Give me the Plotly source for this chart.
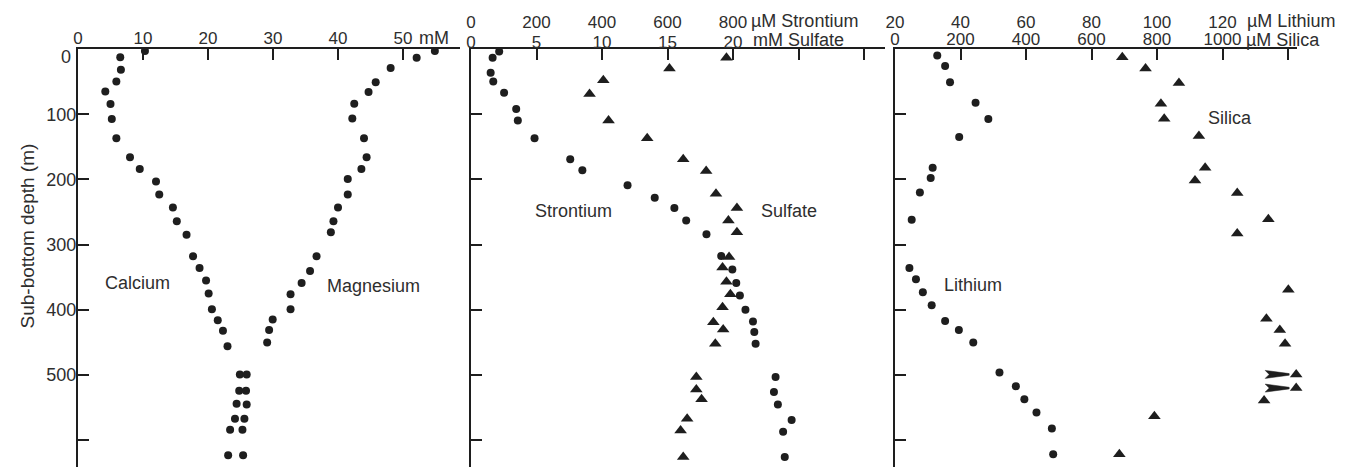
import plotly.graph_objects as go

# ---------------- data ----------------
ca_depth = [3, 12.5, 32, 50, 65, 84.5, 107.5, 137, 166, 184, 203, 223, 243, 264, 285,
            318, 336, 355, 375, 399, 416, 432, 456, 499, 524, 544, 567, 584, 623]
calcium = [10.3, 6.5, 6.6, 5.9, 4.2, 5.0, 5.2, 5.9, 8.0, 9.5, 12.0, 12.5, 14.6, 15.2, 16.7,
           17.7, 18.7, 19.7, 20.1, 20.6, 21.5, 22.3, 23.0, 24.9, 24.8, 24.4, 24.15, 23.4, 23.1]

mg_depth = [3, 13.5, 29, 51, 66, 84, 106.5, 137, 166, 184, 199.5, 223, 243, 264, 281,
            318, 340.5, 359, 376, 399, 415, 431, 450, 499, 524, 545, 567, 584, 623]
magnesium = [54.9, 52.1, 48.1, 45.8, 44.7, 42.5, 42.2, 44.0, 44.4, 43.6, 41.5, 41.5, 40.0, 39.3, 38.9,
             36.7, 35.7, 34.4, 32.7, 32.7, 29.95, 29.4, 29.1, 25.95, 25.85, 25.95, 25.6, 25.3, 25.4]

sr_depth = [4, 13.5, 36.5, 50, 67, 92, 109.5, 137, 169, 186, 209, 228, 244, 263, 284,
            317.5, 338, 359, 378, 400, 418, 434, 452, 503, 526, 545, 569, 587, 625.6]
strontium = [86, 66, 60, 68, 101, 138, 143, 194, 303, 340, 478, 561, 621, 657, 719,
             764, 798, 810, 821, 838, 861, 865, 869, 930, 925, 937, 979, 953, 958]

so4_depth = [13.5, 30, 48, 69, 109.5, 137, 169, 187, 222, 244, 263, 281, 319, 335, 357,
             376, 396, 419, 430, 452, 503, 522, 537, 567, 585, 625.6]
sulfate = [19.5, 15.15, 10.1, 9.05, 10.5, 13.45, 16.2, 17.95, 18.7, 20.3, 19.65, 20.3, 19.7, 19.2, 19.5,
           19.8, 19.2, 18.5, 19.25, 18.65, 17.2, 17.2, 17.6, 16.5, 16.0, 16.2]

li_depth = [10, 26, 51, 82.5, 107.5, 135, 182, 198, 220, 262, 336, 353, 373, 393, 417,
            431, 450, 496, 517, 537, 557.6, 582, 621.5]
lithium = [32.9, 35.3, 36.8, 44.6, 48.5, 39.6, 31.5, 30.9, 27.6, 25.1, 24.4, 26.4, 28.5, 31.2, 35.3,
           39.5, 43.9, 51.9, 56.9, 59.5, 63.2, 67.9, 68.3]

si_depth = [12.5, 30, 52, 84, 107, 133.6, 182, 201.5, 221, 261, 283, 369, 413.5, 431, 452,
            499, 520, 539, 563, 621.5]
silica = [694, 765, 867, 812, 822, 928, 947, 916, 1045, 1140, 1045, 1201, 1134, 1175, 1191,
          1225, 1225, 1127, 792, 685]

# samples flagged with arrows in the silica profile
arrow_depths = [499, 520]
arrow_silica = [1225, 1225]

# tick labels
depth_ticks = [0, 100, 200, 300, 400, 500, 600]
depth_labels = ["", "100", "200", "300", "400", "500", ""]
mm_ticks = [0, 10, 20, 30, 40, 50]
sr_ticks = [0, 200, 400, 600, 800, 1000, 1200]
sr_labels = ["0", "200", "400", "600", "800", "", ""]
so4_ticks = [0, 5, 10, 15, 20]
si_ticks = [0, 200, 400, 600, 800, 1000, 1200]
si_labels = ["0", "200", "400", "600", "800", "1000", ""]
li_ticks = [20, 40, 60, 80, 100, 120]

# ---------------- styling ----------------
OFF = 8                      # page body margin of the browser
REF_W, REF_H = 1357, 467
W, H = REF_W - OFF, REF_H - OFF
TOP = 49                     # top axis position in the reference picture
FONT = "Liberation Sans, Arial, sans-serif"
INK = "#1e1e1e"
TXT = "#2e2e2e"

def px_to_paper_x(px):
    return (px - OFF) / W

def py_to_paper_y(py):
    return (REF_H - py) / (REF_H - TOP)

DEPTH_RANGE = [641, 0]

dot = dict(symbol="circle", size=8, color=INK)
tri = dict(symbol="triangle-up", size=11, color=INK)

fig = go.Figure()
fig.add_trace(go.Scatter(x=calcium, y=ca_depth, mode="markers", marker=dot,
                         xaxis="x", yaxis="y", cliponaxis=False, name="Calcium"))
fig.add_trace(go.Scatter(x=magnesium, y=mg_depth, mode="markers", marker=dot,
                         xaxis="x", yaxis="y", cliponaxis=False, name="Magnesium"))
fig.add_trace(go.Scatter(x=strontium, y=sr_depth, mode="markers", marker=dot,
                         xaxis="x2", yaxis="y2", cliponaxis=False, name="Strontium"))
fig.add_trace(go.Scatter(x=sulfate, y=so4_depth, mode="markers", marker=tri,
                         xaxis="x4", yaxis="y2", cliponaxis=False, name="Sulfate"))
fig.add_trace(go.Scatter(x=silica, y=si_depth, mode="markers", marker=tri,
                         xaxis="x3", yaxis="y3", cliponaxis=False, name="Silica"))
fig.add_trace(go.Scatter(x=lithium, y=li_depth, mode="markers", marker=dot,
                         xaxis="x5", yaxis="y3", cliponaxis=False, name="Lithium"))

tickfont = dict(family=FONT, size=17, color=TXT)
ytickfont = dict(family=FONT, size=18, color=TXT)
base_x = dict(side="top", showgrid=False, zeroline=False, automargin=False,
              fixedrange=True, tickfont=tickfont)
line_x = dict(showline=True, linecolor=INK, linewidth=2, ticks="inside",
              ticklen=11, tickwidth=2, tickcolor=INK)
base_y = dict(range=DEPTH_RANGE, domain=[0, 1], showgrid=False, zeroline=False,
              automargin=False, fixedrange=True, showline=True, linecolor=INK,
              linewidth=2, ticks="inside", ticklen=11, tickwidth=2, tickcolor=INK,
              tickvals=depth_ticks, tickfont=ytickfont)

d1 = [px_to_paper_x(78), px_to_paper_x(460)]
d2 = [px_to_paper_x(471), px_to_paper_x(885)]
d3 = [px_to_paper_x(895), px_to_paper_x(1297)]
r1 = [0, (460 - 78) / 6.5]
r2 = [0, (885 - 471) / 0.3275]
r3 = [0, (1297 - 895) / 0.3275]

fig.update_layout(
    width=W, height=H,
    margin=dict(l=0, r=0, t=TOP - OFF, b=0),
    paper_bgcolor="white", plot_bgcolor="white",
    showlegend=False,
    xaxis=dict(**base_x, **line_x, domain=d1, range=r1, anchor="y",
               tickvals=mm_ticks, ticktext=[str(v) for v in mm_ticks], ticklabelstandoff=-4),
    yaxis=dict(**base_y, anchor="x", ticktext=depth_labels, ticklabelstandoff=-4),
    xaxis2=dict(**base_x, **line_x, domain=d2, range=r2, anchor="y2",
                tickvals=sr_ticks, ticktext=sr_labels, ticklabelstandoff=12),
    xaxis4=dict(**base_x, overlaying="x2", anchor="y2", range=[r2[0] / 40, r2[1] / 40],
                showline=False, ticks="", tickvals=so4_ticks, ticklabelstandoff=-3,
                ticktext=[str(v) for v in so4_ticks]),
    yaxis2=dict(**base_y, anchor="x2", showticklabels=False),
    xaxis3=dict(**base_x, **line_x, domain=d3, range=r3, anchor="y3",
                tickvals=si_ticks, ticktext=si_labels, ticklabelstandoff=-5),
    xaxis5=dict(**base_x, overlaying="x3", anchor="y3", range=[20 + r3[0] / 10, 20 + r3[1] / 10],
                showline=False, ticks="", tickvals=li_ticks, ticklabelstandoff=17,
                ticktext=[str(v) for v in li_ticks]),
    yaxis3=dict(**base_y, anchor="x3", showticklabels=False),
)

lab = dict(family=FONT, size=18, color=TXT)
unit = dict(family=FONT, size=18, color=TXT)
ann = []
# depth label for the surface, set just below the corner as in the original
ann.append(dict(text="0", x=px_to_paper_x(73), xref="paper", xanchor="right",
                y=12.5, yref="y", yanchor="middle", showarrow=False, font=ytickfont))
# unit labels next to the last labelled tick
ann.append(dict(text="mM", x=50, xref="x", xanchor="left", xshift=14,
                y=1, yref="paper", yanchor="middle", yshift=11, showarrow=False, font=unit))
ann.append(dict(text="µM Strontium", x=800, xref="x2", xanchor="left", xshift=16,
                y=1, yref="paper", yanchor="middle", yshift=28, showarrow=False, font=unit))
ann.append(dict(text="mM Sulfate", x=20, xref="x4", xanchor="left", xshift=18,
                y=1, yref="paper", yanchor="middle", yshift=9, showarrow=False, font=unit))
ann.append(dict(text="µM Lithium", x=120, xref="x5", xanchor="left", xshift=22,
                y=1, yref="paper", yanchor="middle", yshift=28, showarrow=False, font=unit))
ann.append(dict(text="µM Silica", x=1000, xref="x3", xanchor="left", xshift=21,
                y=1, yref="paper", yanchor="middle", yshift=9, showarrow=False, font=unit))
# series labels
ann.append(dict(text="Calcium", x=9.2, y=359, xref="x", yref="y", showarrow=False, font=lab))
ann.append(dict(text="Magnesium", x=45.5, y=364, xref="x", yref="y", showarrow=False, font=lab))
ann.append(dict(text="Strontium", x=312, y=249, xref="x2", yref="y2", showarrow=False, font=lab))
ann.append(dict(text="Sulfate", x=971, y=249, xref="x2", yref="y2", showarrow=False, font=lab))
ann.append(dict(text="Silica", x=1023, y=106.5, xref="x3", yref="y3", showarrow=False, font=lab))
ann.append(dict(text="Lithium", x=237, y=362, xref="x3", yref="y3", showarrow=False, font=lab))
# y axis title
ann.append(dict(text="Sub-bottom depth (m)", x=px_to_paper_x(15), y=py_to_paper_y(236),
                xref="paper", yref="paper", textangle=-90, showarrow=False,
                font=dict(family=FONT, size=19, color=TXT)))
fig.update_layout(annotations=ann)

# arrow wedges pointing at flagged silica samples
shapes = []
for xs, ys in zip(arrow_silica, arrow_depths):
    shapes.append(dict(type="path", xref="x3", yref="y3", xsizemode="pixel", ysizemode="pixel",
                       xanchor=xs, yanchor=ys,
                       path="M -31 4 L -7 0.8 L -7 -0.8 L -31 -4 L -27 0 Z",
                       fillcolor=INK, line=dict(color=INK, width=0.5)))
fig.update_layout(shapes=shapes)

fig.write_html("out.html")
